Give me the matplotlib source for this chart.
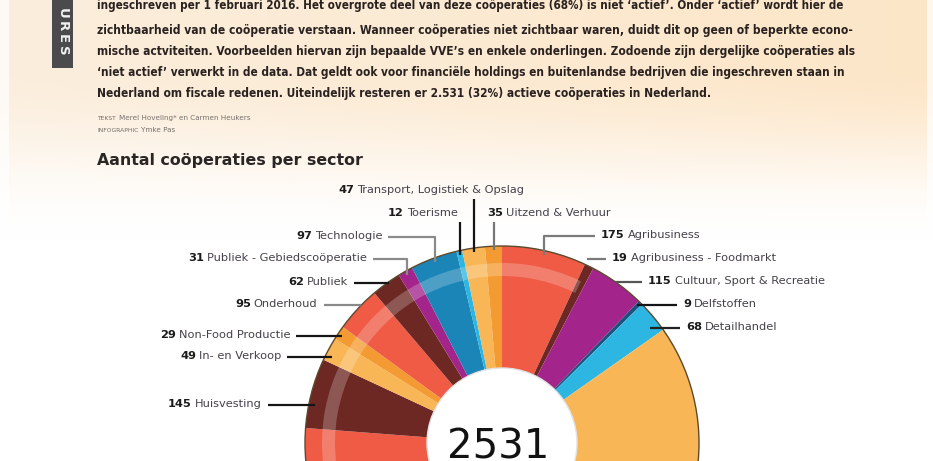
import numpy as np
import matplotlib
matplotlib.use("Agg")
import matplotlib.pyplot as plt
from matplotlib.patches import Rectangle, Wedge, Circle

W, H = 933, 461

# ------------------------------------------------------------------ data
# sectors clockwise from 12 o'clock (alphabetical); hidden ones lie below the crop (estimated)
sectors = ["Agribusiness", "Agribusiness - Foodmarkt", "Cultuur, Sport & Recreatie",
           "Delfstoffen", "Detailhandel",
           "Energie", "Overige sectoren", "Groothandel",
           "Huisvesting", "In- en Verkoop", "Non-Food Productie", "Onderhoud",
           "Publiek", "Publiek - Gebiedscoöperatie", "Technologie", "Toerisme",
           "Transport, Logistiek & Opslag", "Uitzend & Verhuur"]
counts = [175, 19, 115, 9, 68,
          600, 700, 243,
          145, 49, 29, 95, 62, 31, 97, 12, 47, 35]
total_label = "2531"

title = "Aantal coöperaties per sector"
paragraph = [
    "ingeschreven per 1 februari 2016. Het overgrote deel van deze coöperaties (68%) is niet ‘actief’. Onder ‘actief’ wordt hier de",
    "zichtbaarheid van de coöperatie verstaan. Wanneer coöperaties niet zichtbaar waren, duidt dit op geen of beperkte econo-",
    "mische actviteiten. Voorbeelden hiervan zijn bepaalde VVE’s en enkele onderlingen. Zodoende zijn dergelijke coöperaties als",
    "‘niet actief’ verwerkt in de data. Dat geldt ook voor financiële holdings en buitenlandse bedrijven die ingeschreven staan in",
    "Nederland om fiscale redenen. Uiteindelijk resteren er 2.531 (32%) actieve coöperaties in Nederland.",
]
credits = [("TEKST", "Merel Hoveling* en Carmen Heukers"), ("INFOGRAPHIC", "Ymke Pas")]
tab_text = "URES"

# ------------------------------------------------------------------ style
RED, BROWN, MAG, NAVY = "#EF5B45", "#6E2824", "#A3248A", "#1D527F"
CYAN, YEL, ORA, BLUE = "#2DB6E1", "#F8B656", "#F49A32", "#1B85B7"
colors = [RED, BROWN, MAG, NAVY, CYAN,
          YEL, BLUE, RED,
          BROWN, YEL, ORA, RED, BROWN, MAG, BLUE, CYAN, YEL, ORA]

# label layout: (side, x of number, y centre, leader style, leader colour)  -- image pixels
label_layout = {
    "Agribusiness": ("right", 601, 235, "elbow", "#7a7a7a"),
    "Agribusiness - Foodmarkt": ("right", 612, 258, "h", "#7a7a7a"),
    "Cultuur, Sport & Recreatie": ("right", 648, 281, "h", "#555555"),
    "Delfstoffen": ("right", 683, 304, "h", "#151515"),
    "Detailhandel": ("right", 686, 327, "h", "#222222"),
    "Huisvesting": ("left", 168, 404, "h", "#151515"),
    "In- en Verkoop": ("left", 180, 356, "h", "#151515"),
    "Non-Food Productie": ("left", 160, 335, "h", "#151515"),
    "Onderhoud": ("left", 235, 304, "h", "#8a8a8a"),
    "Publiek": ("left", 288, 282, "h", "#151515"),
    "Publiek - Gebiedscoöperatie": ("left", 188, 258, "elbow", "#8a8a8a"),
    "Technologie": ("left", 296, 236, "elbow", "#8a8a8a"),
    "Toerisme": ("top", 388, 213, "v", "#151515"),
    "Transport, Logistiek & Opslag": ("top", 338, 190, "v", "#151515"),
    "Uitzend & Verhuur": ("top", 487, 213, "v", "#777777"),
}

CX, CY = 502, 443          # donut centre (pixels)
R_OUT, R_IN = 197, 75

def Y(py):
    return H - py

fig = plt.figure(figsize=(W / 100, H / 100), dpi=100)
ax = fig.add_axes([0, 0, 1, 1])
ax.set_axis_off()

# background: peach paper fading to white
xx = np.linspace(0, 1, W)[None, :]
t = np.clip((np.arange(H)[:, None] - 70) / 170.0, 0, 1)
t = t * t * (3 - 2 * t)
peach_l = np.array([251, 238, 221]) / 255
peach_r = np.array([253, 230, 200]) / 255
peach = peach_l[None, None, :] * (1 - xx[..., None]) + peach_r[None, None, :] * xx[..., None]
white = np.array([1.0, 1.0, 1.0])
bg = peach * (1 - t[..., None]) + white * t[..., None]
bg[:, :9, :] = bg[:, :9, :] * 0.3 + 0.7
bg[:, W - 6:, :] = bg[:, W - 6:, :] * 0.3 + 0.7
ax.imshow(bg, extent=[0, W, 0, H], aspect="auto", zorder=0, origin="upper")

# donut
ax.pie(counts, colors=colors, startangle=90, counterclock=False,
       radius=R_OUT, center=(CX, Y(CY)),
       wedgeprops=dict(width=R_OUT - R_IN, edgecolor="none", linewidth=0))
# glossy band and outline
ax.add_patch(Wedge((CX, Y(CY)), 180, 64, 205, width=13, facecolor="white", alpha=0.22,
                   edgecolor="none", zorder=3))
ax.add_patch(Circle((CX, Y(CY)), R_OUT, fill=False, edgecolor="#5b4a2e", lw=1.0, zorder=3))
ax.add_patch(Circle((CX, Y(CY)), R_IN, facecolor="white", edgecolor="#e2e2e2", lw=1.0, zorder=3))

ax.set_xlim(0, W)
ax.set_ylim(0, H)
ax.set_aspect("auto")

fig.canvas.draw()
rend = fig.canvas.get_renderer()

def width_of(txt):
    return txt.get_window_extent(rend).width

# centre number
tn = ax.text(CX - 4, Y(427), total_label, fontsize=40, family="DejaVu Sans",
             color="#121212", ha="center", va="top", zorder=5)
tn.set_fontsize(40 * 102 / width_of(tn))

# labels
total = float(sum(counts))
cum = np.cumsum([0] + counts[:-1])
for name, v, c0 in zip(sectors, counts, cum):
    if name not in label_layout:
        continue
    side, x, y, style, lc = label_layout[name]
    ang = np.deg2rad(90 - 360 * (c0 + v / 2) / total)
    ra = R_OUT - 4
    axp = CX + ra * np.cos(ang)
    ayp = CY - ra * np.sin(ang)
    tnum = ax.text(x, Y(y), str(v), fontsize=8.2, fontweight="bold", color="#1b1b1b",
                   ha="left", va="center", family="DejaVu Sans", zorder=6)
    wn = width_of(tnum)
    tname = ax.text(x + wn + 3, Y(y), name, fontsize=8.2, color="#45404a",
                    ha="left", va="center", family="DejaVu Sans", zorder=6)
    wt = width_of(tname)
    xend = x + wn + 3 + wt
    if style == "v":
        xs, ys = [axp, axp], [y + 9, ayp]
    elif side == "left":
        xs, ys = [xend + 6, axp], [y + 1, y + 1]
        if style == "elbow":
            xs.append(axp); ys.append(ayp)
    else:
        xs, ys = [x - 6, axp], [y + 1, y + 1]
        if style == "elbow":
            xs.append(axp); ys.append(ayp)
    ax.plot(xs, [Y(q) for q in ys], color=lc, lw=1.6, solid_capstyle="butt", zorder=5)

# title
tt = ax.text(97, Y(160), title, fontsize=13, fontweight="semibold", color="#2a2626",
             family="DejaVu Sans", ha="left", va="center", zorder=6)
tt.set_fontsize(13 * 264 / width_of(tt))

# paragraph (justified lines fitted to their width)
line_y = [6, 31, 52, 73, 93]
line_right = [848, 855, 859, 851, None]
sizes = []
for s, yv, rr in zip(paragraph, line_y, line_right):
    tp = ax.text(97, Y(yv), s, fontsize=9, fontweight="bold", color="#2a2220",
                 family="DejaVu Sans", fontstretch="condensed",
                 ha="left", va="center", zorder=6)
    if rr is not None:
        fs = 9 * (rr - 97) / width_of(tp)
        tp.set_fontsize(fs)
        sizes.append(fs)
    else:
        tp.set_fontsize(np.mean(sizes))

# credits
for (lab, who), yv in zip(credits, [118, 130]):
    t1 = ax.text(97, Y(yv), lab, fontsize=4.3, color="#6f6a66", ha="left", va="center",
                 family="DejaVu Sans", zorder=6)
    ax.text(97 + width_of(t1) + 3, Y(yv), who, fontsize=5.2, color="#77726d", ha="left",
            va="center", family="DejaVu Sans", zorder=6)

# side tab
ax.add_patch(Rectangle((52, Y(68)), 21, 68, facecolor="#4b4a4c", edgecolor="none", zorder=4))
for i, ch in enumerate(tab_text):
    ax.text(62.5, Y(13 + 12.7 * i), ch, fontsize=9.5, fontweight="bold", color="#f2f2f2",
            rotation=270, ha="center", va="center", family="DejaVu Sans", zorder=6)

fig.savefig("out.png", dpi=100)
